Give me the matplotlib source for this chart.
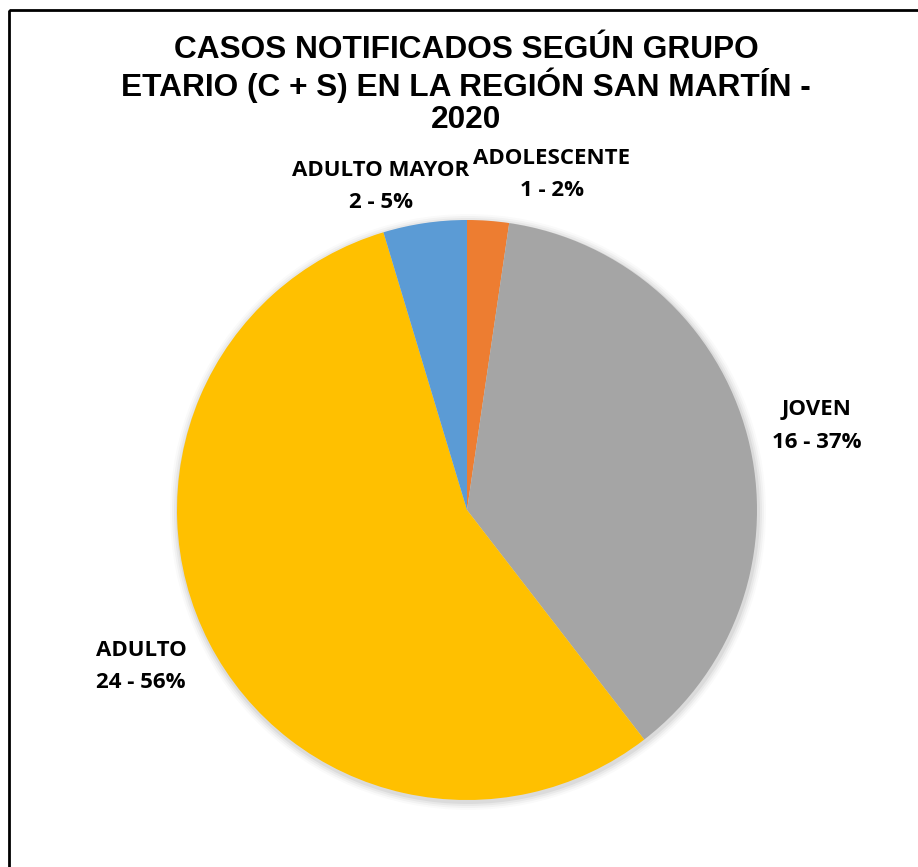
import numpy as np
import matplotlib.pyplot as plt
from matplotlib.patches import Rectangle

# datos
grupos = ["ADOLESCENTE", "JOVEN", "ADULTO", "ADULTO MAYOR"]
casos = [1, 16, 24, 2]
porcentajes = [2, 37, 56, 5]
colores = ["#ED7D31", "#A5A5A5", "#FFC000", "#5B9BD5"]

titulo = ["CASOS NOTIFICADOS SEGÚN GRUPO",
          "ETARIO (C + S) EN LA REGIÓN SAN MARTÍN -",
          "2020"]

fig = plt.figure(figsize=(9.18, 8.67), dpi=100)
ax = fig.add_axes([0, 0, 1, 1])

# sombra suave
for i, a in enumerate([0.05, 0.04, 0.03, 0.02]):
    ax.pie([1], colors=["#000000"], center=(468, 512), radius=290 + 2 * (i + 1),
           wedgeprops=dict(alpha=a, linewidth=0))

# eje y invertido: startangle=-90 es arriba y counterclock=True va en sentido horario
wedges, _ = ax.pie(casos, colors=colores, startangle=-90, counterclock=True,
                   center=(467, 510), radius=290,
                   wedgeprops=dict(linewidth=0))

ax.set_xlim(0, 918)
ax.set_ylim(867, 0)
ax.set_aspect("equal")
ax.axis("off")

# marco
ax.add_patch(Rectangle((9, 10), 940, 900, fill=False, edgecolor="black", linewidth=2))

# etiquetas (dos lineas)
pos_etiquetas = [(552, 174), (817, 426), (141, 667), (381, 187)]
for g, c, p, (x, y) in zip(grupos, casos, porcentajes, pos_etiquetas):
    ax.text(x, y - 16, g, ha="center", va="center",
            fontsize=16, fontweight="bold", family="Open Sans")
    ax.text(x, y + 16, f"{c} - {p}%", ha="center", va="center",
            fontsize=16, fontweight="bold", family="Open Sans")

# titulo
for i, linea in enumerate(titulo):
    ax.text(466, 50 + 35 * i, linea, ha="center", va="center",
            fontsize=22.8, fontweight="bold", family="Liberation Sans")

fig.savefig("out.png", dpi=100)
